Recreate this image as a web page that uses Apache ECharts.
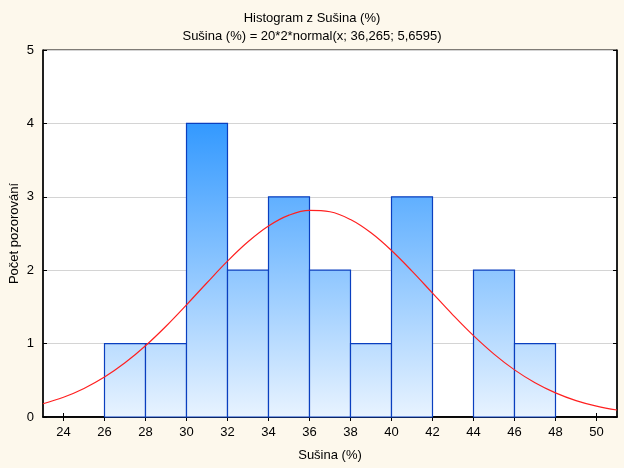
<!DOCTYPE html>
<html><head><meta charset="utf-8">
<script src="https://cdn.jsdelivr.net/npm/echarts@6/dist/echarts.min.js"></script>
<style>html,body{margin:0;padding:0;background:#fdf8ec}#c{width:624px;height:468px}</style>
</head><body><div id="c"></div>
<script>
// Histogram bins (lower edge, bin width 2) and counts
var binStart = [26, 28, 30, 32, 34, 36, 38, 40, 42, 44, 46];
var binWidth = 2;
var counts = [1, 1, 4, 2, 3, 2, 1, 3, 0, 2, 1];
// Fitted normal curve (x, expected count)
var curveX = [23,24,25,26,27,28,29,30,31,32,33,34,35,36,37,38,39,40,41,42,43,44,45,46,47,48,49,50,51];
var curveY = [0.181,0.269,0.389,0.544,0.738,0.971,1.237,1.528,1.829,2.123,2.387,2.602,2.750,2.816,2.796,2.690,2.509,2.268,1.987,1.688,1.389,1.108,0.857,0.642,0.467,0.329,0.224,0.148,0.095];
var xTicks = [24,26,28,30,32,34,36,38,40,42,44,46,48,50];

var chart = echarts.init(document.getElementById('c'));
var font = 'Liberation Sans, Arial, sans-serif';
var barData = binStart.map(function(s,i){return [s, s+binWidth, counts[i]];});
var curveData = curveX.map(function(x,i){return [x, curveY[i]];});
var grad = {type:'linear', x:0, y:50, x2:0, y2:417, global:true,
  colorStops:[{offset:0,color:'#2a8cff'},{offset:0.2,color:'#3399ff'},{offset:1,color:'#e8f3ff'}]};

chart.setOption({
  backgroundColor:'#fdf8ec',
  animation:false,
  title:[
    {text:'Histogram z Sušina (%)', left:'center', top:7, textStyle:{fontFamily:font,fontSize:13,fontWeight:'normal',color:'#000'}},
    {text:'Sušina (%) = 20*2*normal(x; 36,265; 5,6595)', left:'center', top:25, textStyle:{fontFamily:font,fontSize:13,fontWeight:'normal',color:'#000'}}
  ],
  grid:{left:43, right:7, top:50, bottom:51, show:true, backgroundColor:'#fff', borderColor:'#000', borderWidth:1, containLabel:false, outerBoundsMode:'none'},
  xAxis:[
    {type:'value', min:23, max:51, position:'bottom',
     name:'Sušina (%)', nameLocation:'middle', nameGap:32, nameTextStyle:{fontFamily:font,fontSize:13,color:'#000'},
     axisLine:{show:true,lineStyle:{color:'#000',width:1.5}},
     axisTick:{show:true,inside:true,length:4,lineStyle:{color:'#000'},customValues:xTicks},
     axisLabel:{fontFamily:font,fontSize:13,color:'#000',margin:9,customValues:xTicks},
     splitLine:{show:false}},
    {type:'value', min:23, max:51, position:'top',
     axisLine:{show:true,lineStyle:{color:'#000',width:1.5}},
     axisTick:{show:true,inside:true,length:4,lineStyle:{color:'#000'},customValues:xTicks},
     axisLabel:{show:false}, splitLine:{show:false}}
  ],
  yAxis:[
    {type:'value', min:0, max:5, interval:1, position:'left',
     name:'Počet pozorování', nameLocation:'middle', nameGap:22, nameMoveOverlap:false, nameTextStyle:{fontFamily:font,fontSize:13,color:'#000'},
     axisLine:{show:true,lineStyle:{color:'#000',width:1.5}},
     axisTick:{show:true,inside:true,length:4,lineStyle:{color:'#000'}},
     axisLabel:{fontFamily:font,fontSize:13,color:'#000',margin:9},
     splitLine:{show:true,lineStyle:{color:'#d4d4d4',width:1}}},
    {type:'value', min:0, max:5, interval:1, position:'right',
     axisLine:{show:true,lineStyle:{color:'#000',width:1.5}},
     axisTick:{show:true,inside:true,length:4,lineStyle:{color:'#000'}},
     axisLabel:{show:false}, splitLine:{show:false}}
  ],
  series:[
    {type:'custom', xAxisIndex:0, yAxisIndex:0, data:barData,
     renderItem:function(params, api){
       var x0 = api.value(0), x1 = api.value(1), h = api.value(2);
       if (h <= 0) return null;
       var p0 = api.coord([x0, h]), p1 = api.coord([x1, 0]);
       return {type:'rect', shape:{x:p0[0], y:p0[1], width:p1[0]-p0[0], height:p1[1]-p0[1]},
         style:{fill:grad, stroke:'#0a3fbf', lineWidth:1.2}};
     }, z:2},
    {type:'line', xAxisIndex:0, yAxisIndex:0, data:curveData, smooth:0.4, showSymbol:false,
     lineStyle:{color:'#ff2020', width:1.2}, z:3}
  ]
});
</script></body></html>
